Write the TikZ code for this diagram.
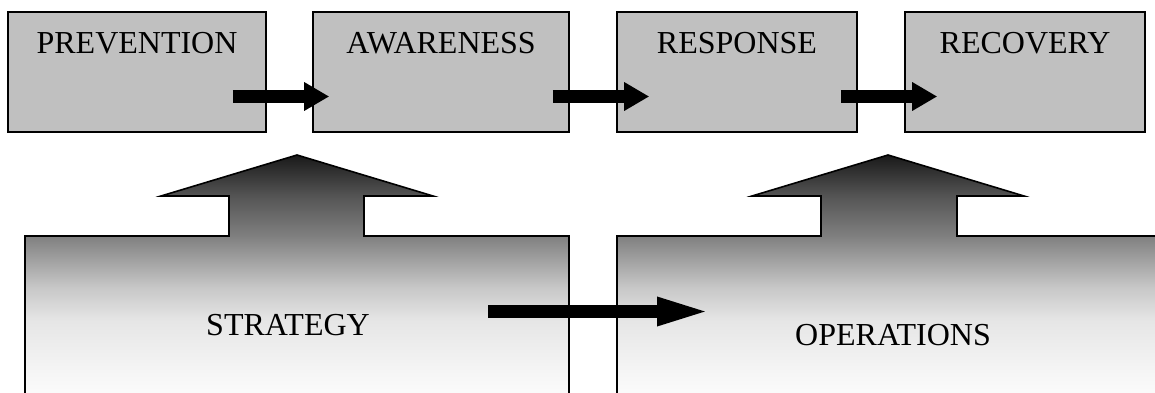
\documentclass[tikz,border=0pt]{standalone}
\usepackage{fontspec}
\setmainfont{Liberation Serif}
\usetikzlibrary{arrows.meta,calc}

\definecolor{stagefill}{HTML}{C0C0C0}
% dark at the arrow tips, fading to near white at the foot of the areas
\pgfdeclareverticalshading{risefade}{100bp}{gray(0bp)=(0.985); gray(25bp)=(0.985); gray(30.2bp)=(0.96); gray(40.6bp)=(0.90); gray(47.5bp)=(0.78); gray(58.1bp)=(0.50); gray(66.5bp)=(0.33); gray(75bp)=(0.10); gray(100bp)=(0.10)}

\tikzset{
  stage/.style={draw, line width=1.6pt, fill=stagefill, minimum height=120pt,
    inner sep=0pt, text height=22pt, text depth=60pt,
    font=\fontsize{32}{38}\selectfont},
  blockarrow/.style={line width=13pt, -{Triangle[length=25pt,width=27pt]}},
  bigarrow/.style={line width=13pt, -{Triangle[length=56pt,width=25pt]}},
  areashape/.style={draw, line width=1.6pt, shading=risefade},
  arealabel/.style={anchor=base, inner sep=0pt, font=\fontsize{32}{38}\selectfont},
}

\begin{document}
\begin{tikzpicture}[x=1pt,y=1pt]
\useasboundingbox (0,0) rectangle (1155,392);

% lower areas, each with an arrow rising towards the stages
\path[areashape] (25,-3) -- (25,156) -- (229,156) -- (229,196) -- (161,196)
  -- (297,237) -- (433,196) -- (364,196) -- (364,156) -- (569,156)
  -- (569,-3) -- cycle;
\path[areashape] (617,-3) -- (617,156) -- (821,156) -- (821,196) -- (752,196)
  -- (888,237) -- (1024,196) -- (957,196) -- (957,156) -- (1160,156)
  -- (1160,-3) -- cycle;

% stages along the top
\node[stage, minimum width=258pt] (prev)  at (137,320) {PREVENTION};
\node[stage, minimum width=256pt] (aware) at (441,320) {AWARENESS};
\node[stage, minimum width=240pt] (resp)  at (737,320) {RESPONSE};
\node[stage, minimum width=240pt] (recov) at (1025,320) {RECOVERY};

% area labels
\node[arealabel] (strat) at (288,57) {STRATEGY};
\node[arealabel] (ops)   at (893,47) {OPERATIONS};

% flow between the stages
\draw[blockarrow] ($(prev.east)+(-34,-24.5)$) -- ($(aware.west)+(17,-24.5)$);
\draw[blockarrow] ($(aware.east)+(-17,-24.5)$) -- ($(resp.west)+(33,-24.5)$);
\draw[blockarrow] ($(resp.east)+(-17,-24.5)$) -- ($(recov.west)+(33,-24.5)$);

% strategy feeds operations
\draw[bigarrow] ($(strat.base)+(200,23.5)$) -- ($(ops.base)+(-180,33.5)$);
\end{tikzpicture}
\end{document}
